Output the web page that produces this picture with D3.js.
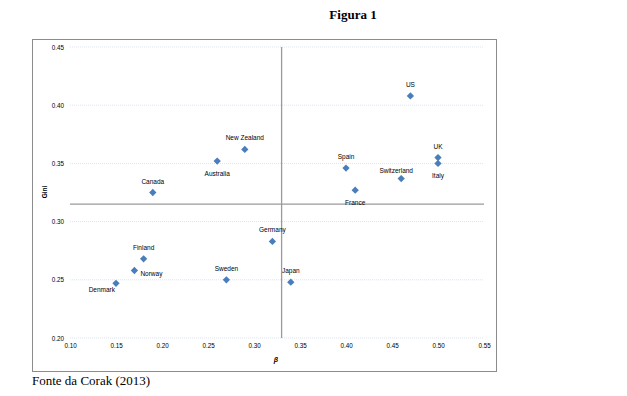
<!DOCTYPE html>
<html>
<head>
<meta charset="utf-8">
<script src="https://cdn.jsdelivr.net/npm/d3@7"></script>
<style>
  body { margin: 0; background: #fff; }
</style>
</head>
<body>
<div class="chart"></div>
<script>
// data
const countries = ['Canada', 'Australia', 'New Zealand', 'US', 'UK', 'Italy', 'Spain',
    'Switzerland', 'France', 'Germany', 'Finland', 'Norway', 'Denmark', 'Sweden', 'Japan'];
const beta = [0.19, 0.26, 0.29, 0.47, 0.50, 0.50, 0.40, 0.46, 0.41, 0.32, 0.18, 0.17, 0.15, 0.27, 0.34];
const gini = [0.325, 0.352, 0.362, 0.408, 0.355, 0.350, 0.346, 0.337, 0.327, 0.283, 0.268, 0.258, 0.247, 0.250, 0.248];
// where the label sits: a = above, b = below, r = right, bl = below left, al = above left
const labelPos = ['a', 'b', 'a', 'a', 'a', 'b', 'a', 'al', 'b', 'a', 'a', 'r', 'bl', 'a', 'a'];
const xTicks = [0.10, 0.15, 0.20, 0.25, 0.30, 0.35, 0.40, 0.45, 0.50, 0.55];
const yTicks = [0.20, 0.25, 0.30, 0.35, 0.40, 0.45];
const betaMean = 0.33;
const giniMean = 0.315;

const width = 627, height = 396;
const svg = d3.select('.chart').append('svg')
    .attr('width', width)
    .attr('height', height);

const fontFamily = 'Liberation Sans, Arial, sans-serif';
const serif = 'Liberation Serif, Times New Roman, serif';

svg.append('text')
    .attr('x', 353).attr('y', 19)
    .attr('text-anchor', 'middle')
    .attr('font-family', serif)
    .attr('font-weight', 'bold')
    .attr('font-size', 13)
    .text('Figura 1');

// chart border
svg.append('rect')
    .attr('x', 32.5).attr('y', 39.5)
    .attr('width', 464).attr('height', 332)
    .attr('fill', 'none')
    .attr('stroke', '#8c8c8c')
    .attr('stroke-width', 1);

svg.append('text')
    .attr('x', 32).attr('y', 385)
    .attr('font-family', serif)
    .attr('font-size', 13)
    .text('Fonte da Corak (2013)');

const x = d3.scaleLinear().domain([0.10, 0.55]).range([70, 484]);
const y = d3.scaleLinear().domain([0.20, 0.45]).range([338, 47]);

const g = svg.append('g').attr('font-family', fontFamily);

// gridlines
g.selectAll('.grid')
    .data(yTicks)
    .join('line')
    .attr('x1', x(0.10)).attr('x2', x(0.55))
    .attr('y1', d => y(d)).attr('y2', d => y(d))
    .attr('stroke', '#dde4ee')
    .attr('stroke-width', 1)
    .attr('stroke-dasharray', '1,1');

const xAxis = d3.axisBottom(x).tickValues(xTicks).tickFormat(d3.format('.2f')).tickSize(0).tickPadding(6);
const yAxis = d3.axisLeft(y).tickValues(yTicks).tickFormat(d3.format('.2f')).tickSize(0).tickPadding(6);

g.append('g')
    .attr('transform', `translate(0, ${y(0.20)})`)
    .call(xAxis)
    .call(a => a.select('.domain').remove())
    .selectAll('text')
    .attr('font-size', 6.3)
    .attr('font-family', fontFamily)
    .attr('fill', '#000');

g.append('g')
    .attr('transform', `translate(${x(0.10)}, 0)`)
    .call(yAxis)
    .call(a => a.select('.domain').remove())
    .selectAll('text')
    .attr('font-size', 6.3)
    .attr('font-family', fontFamily)
    .attr('fill', '#000');

// mean lines
g.append('line')
    .attr('x1', x(betaMean)).attr('x2', x(betaMean))
    .attr('y1', y(0.45)).attr('y2', y(0.20))
    .attr('stroke', '#9a9a9a').attr('stroke-width', 1.3);
g.append('line')
    .attr('x1', x(0.10)).attr('x2', x(0.55))
    .attr('y1', y(giniMean)).attr('y2', y(giniMean))
    .attr('stroke', '#9a9a9a').attr('stroke-width', 1.3);

// axis titles
g.append('text')
    .attr('transform', `translate(47, 192) rotate(-90)`)
    .attr('text-anchor', 'middle')
    .attr('font-size', 6.5)
    .attr('font-weight', 'bold')
    .text('Gini');
g.append('text')
    .attr('x', 276).attr('y', 362)
    .attr('text-anchor', 'middle')
    .attr('font-size', 7)
    .attr('font-style', 'italic')
    .attr('font-weight', 'bold')
    .text('β');

const data = countries.map((c, i) => ({ name: c, b: beta[i], g: gini[i], pos: labelPos[i] }));

g.selectAll('.pt')
    .data(data)
    .join('path')
    .attr('d', d3.symbol(d3.symbolDiamond2, 34))
    .attr('transform', d => `translate(${x(d.b)}, ${y(d.g)})`)
    .attr('fill', '#4a7ebb');

const dx = { a: 0, b: 0, r: 6, bl: -1, al: -5 };
const dy = { a: -9, b: 15, r: 5.6, bl: 8.5, al: -5.7 };
const anchor = { a: 'middle', b: 'middle', r: 'start', bl: 'end', al: 'middle' };

g.selectAll('.lbl')
    .data(data)
    .join('text')
    .attr('font-size', 6.5)
    .attr('fill', '#000')
    .attr('text-anchor', d => anchor[d.pos])
    .attr('x', d => x(d.b) + dx[d.pos])
    .attr('y', d => y(d.g) + dy[d.pos])
    .text(d => d.name);
</script>
</body>
</html>
